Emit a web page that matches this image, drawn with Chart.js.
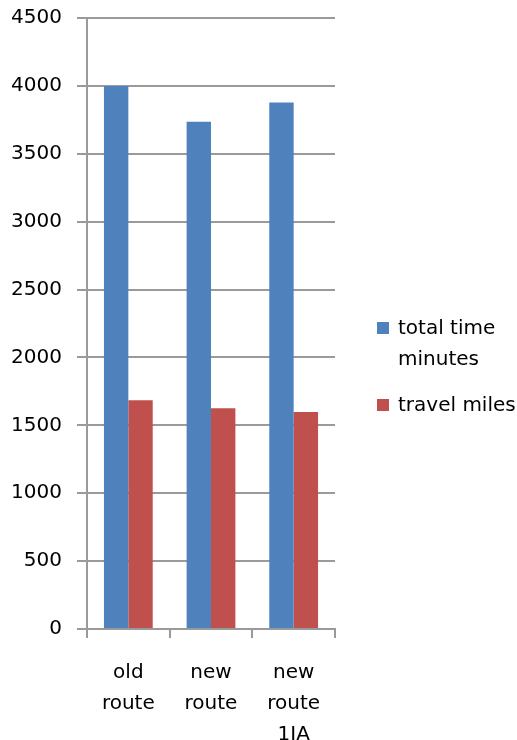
<!DOCTYPE html>
<html>
<head>
<meta charset="utf-8">
<script src="https://cdn.jsdelivr.net/npm/chart.js@4.4.1/dist/chart.umd.min.js"></script>
<style>
  html, body { margin: 0; padding: 0; background: #ffffff; }
  #wrap { position: relative; width: 517px; height: 740px; }
  #legend { position: absolute; left: 377px; top: 312px; font: 20px "DejaVu Sans", sans-serif; color: #000; }
  .item { position: relative; padding-left: 21px; line-height: 31px; margin-bottom: 15px; width: 140px; }
  .box { position: absolute; left: 0; top: 10px; width: 12px; height: 12px; }
</style>
</head>
<body>
<div id="wrap">
  <canvas id="chart" width="517" height="740"></canvas>
  <div id="legend"></div>
</div>
<script>
const categories = [["old", "route"], ["new", "route"], ["new", "route", "1IA"]];
const seriesNames = [["total time", "minutes"], ["travel miles"]];
const totalTimeMinutes = [4000, 3735, 3878];
const travelMiles = [1685, 1626, 1599];
const seriesColors = ["#4f81bd", "#c0504d"];
const yTicks = [0, 500, 1000, 1500, 2000, 2500, 3000, 3500, 4000, 4500];

const font = { family: "DejaVu Sans", size: 20 };
const gridColor = "#9a9a9a";

const canvas = document.getElementById("chart");

const chart = new Chart(canvas, {
    type: "bar",
    data: {
        labels: categories,
        datasets: [
            { label: seriesNames[0].join(" "), data: totalTimeMinutes, backgroundColor: seriesColors[0] },
            { label: seriesNames[1].join(" "), data: travelMiles, backgroundColor: seriesColors[1] }
        ]
    },
    options: {
        responsive: false,
        animation: false,
        devicePixelRatio: 1,
        categoryPercentage: 0.59,
        barPercentage: 1,
        layout: { padding: { left: 0, right: 182, top: 18, bottom: 0 } },
        plugins: {
            legend: { display: false },
            tooltip: { enabled: false }
        },
        scales: {
            x: {
                grid: { drawOnChartArea: false, drawTicks: true, tickLength: 9, color: gridColor, lineWidth: 2, offset: true },
                border: { color: gridColor, width: 2 },
                ticks: { color: "#000", font: { ...font, lineHeight: 1.55 }, padding: 19, maxRotation: 0, autoSkip: false },
                afterFit: (scale) => { scale.height = 111; }
            },
            y: {
                min: 0,
                max: 4500,
                afterBuildTicks: (scale) => { scale.ticks = yTicks.map(v => ({ value: v })); },
                grid: { color: gridColor, lineWidth: 2, tickLength: 10 },
                border: { color: gridColor, width: 2 },
                ticks: { color: "#000", font: font, padding: 15, callback: (v) => String(v) },
                afterFit: (scale) => { scale.width = 87; scale.paddingTop = 0; scale.paddingBottom = 0; }
            }
        }
    }
});

// legend as html so "total time minutes" can wrap like the original
const legend = document.getElementById("legend");
seriesNames.forEach((name, i) => {
    const item = document.createElement("div");
    item.className = "item";
    item.innerHTML = '<span class="box" style="background:' + seriesColors[i] + '"></span>' + name.join("<br>");
    legend.appendChild(item);
});
</script>
</body>
</html>
